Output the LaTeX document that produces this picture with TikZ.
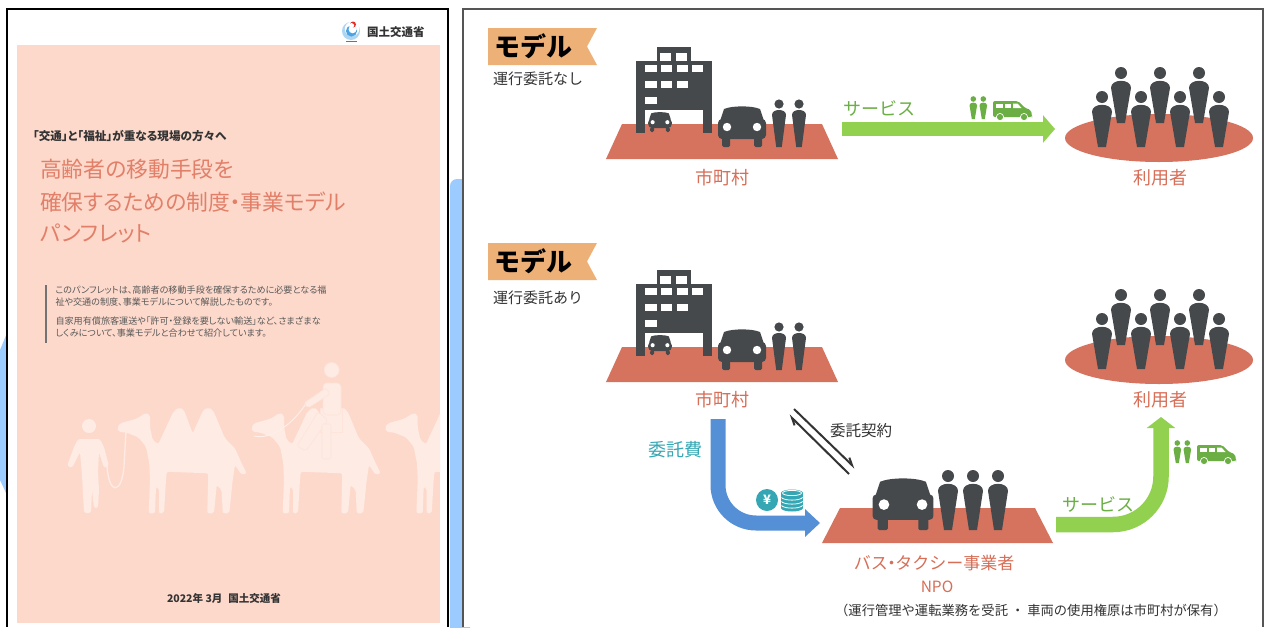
\documentclass[tikz,border=0pt]{standalone}
\usepackage{fontspec}
\setmainfont{Noto Sans CJK JP}
\newfontfamily\coverfont[RawFeature=+palt]{Noto Sans CJK JP}
\usetikzlibrary{arrows.meta}

\definecolor{ink}{HTML}{46494B}
\definecolor{brick}{HTML}{D5735E}
\definecolor{brickText}{HTML}{D76E57}
\definecolor{leaf}{HTML}{92D050}
\definecolor{leafDark}{HTML}{6AAE44}
\definecolor{sky}{HTML}{5590D6}
\definecolor{tealc}{HTML}{35A7B4}
\definecolor{tagOrange}{HTML}{EDB077}
\definecolor{coverPink}{HTML}{FDD9CB}
\definecolor{camelTone}{HTML}{FDEBE4}
\definecolor{titleSalmon}{HTML}{E27F69}
\definecolor{decoBlue}{HTML}{9CCBFF}
\definecolor{frameGray}{HTML}{555555}
\definecolor{logoBlue}{HTML}{4BA3E3}
\definecolor{logoRed}{HTML}{E0302A}
\definecolor{bodyText}{HTML}{333333}

\newcommand{\fsz}[1]{\fontsize{#1}{#1}\selectfont}
\newcommand{\tightdot}{\kern-.28em・\kern-.28em}

% standing figure: x, head y, head radius, half shoulder width, foot y, colour
\newcommand{\figurine}[6]{%
  \fill[#6] (#1,#2) circle (#3);
  \fill[#6] ({#1-0.4*#4},#5) -- ({#1-#4},{#2+1.3*#3+0.7*#4})
    .. controls ({#1-#4},{#2+1.3*#3-0.233*#4}) and ({#1+#4},{#2+1.3*#3-0.233*#4})
    .. ({#1+#4},{#2+1.3*#3+0.7*#4}) -- ({#1+0.4*#4},#5) -- cycle;
}

% front view of a car: centre x, bottom y, scale
\newcommand{\sedan}[3]{%
  \begin{scope}[shift={(#1,#2)},scale=#3]
    \fill[ink] (-22,-26) -- (-18,-38) .. controls (-10,-41.5) and (10,-41.5) .. (18,-38) -- (22,-26) -- cycle;
    \fill[ink,rounded corners=4pt] (-24,-28) rectangle (24,-8);
    \fill[ink,rounded corners=1.5pt] (-20,-10) rectangle (-12,0);
    \fill[ink,rounded corners=1.5pt] (12,-10) rectangle (20,0);
    \fill[white] (-15,-20) circle (4.2);
    \fill[white] (15,-20) circle (4.2);
  \end{scope}}

% two small figures and a van
\newcommand{\servicebadge}[2]{%
  \begin{scope}[shift={(#1,#2)}]
    \figurine{4.3}{-20}{2.8}{3.8}{0}{leafDark}
    \figurine{14.3}{-20}{2.8}{3.8}{0}{leafDark}
    \fill[leafDark,rounded corners=2pt] (24,-2) -- (24,-18) -- (49,-18) -- (56,-11) -- (62,-9) -- (63,-3) -- (63,-2) -- cycle;
    \fill[white] (27,-15.5) rectangle (33.5,-11);
    \fill[white] (35.5,-15.5) rectangle (42,-11);
    \fill[white] (44,-15.5) -- (48.5,-15.5) -- (52.5,-11) -- (44,-11) -- cycle;
    \filldraw[leafDark,draw=white,line width=0.7pt] (31,-2) circle (3.6);
    \filldraw[leafDark,draw=white,line width=0.7pt] (55,-2) circle (3.6);
  \end{scope}}

% office building, cars and staff standing on a plinth; argument = vertical offset
\newcommand{\townhall}[1]{%
  \begin{scope}[shift={(0,#1)}]
    \fill[brick] (606,159) -- (622,124) -- (822,124) -- (838,159) -- cycle;
    \fill[ink] (657,47) rectangle (691,62);
    \fill[ink] (636,61) rectangle (712,110);
    \fill[ink] (636,109) rectangle (645,133);
    \fill[ink] (703,109) rectangle (712,133);
    \fill[white] (660,53.3) rectangle (670.7,60.7);
    \fill[white] (676,53.3) rectangle (687.3,60.7);
    \foreach \xa/\xb in {645/656.7,661/672.3,676.7/688,692.3/703.3}
      {\fill[white] (\xa,65) rectangle (\xb,72.3);}
    \foreach \xa/\xb in {645/656.7,661/672.3,676.7/688}
      {\fill[white] (\xa,81) rectangle (\xb,88.3);}
    \fill[white] (645,96.7) rectangle (656.7,104);
    \sedan{660}{132}{0.49}
    \sedan{742}{147}{1}
    \figurine{779}{104}{4.6}{7}{147}{ink}
    \figurine{799}{104}{4.6}{7}{147}{ink}
  \end{scope}}

% crowd of users on an oval; argument = vertical offset
\newcommand{\crowd}[1]{%
  \begin{scope}[shift={(0,#1)}]
    \fill[brick] (1159,138) ellipse (94 and 24);
    \foreach \cx in {1121,1160,1199} {\figurine{\cx}{73}{6}{10}{123}{ink}}
    \foreach \cx in {1102,1141,1180,1219} {\figurine{\cx}{97}{6}{10}{147}{ink}}
  \end{scope}}

% silhouette of a camel, shifted horizontally
\newcommand{\camel}[1]{%
  \fill[camelTone,rounded corners=2pt,shift={(#1,0)}]
    (117.3,427.3) -- (120,423.3) -- (136.7,418.7) -- (146,412.7) -- (150,415) -- (150,427.3)
    -- (152.7,440) -- (158.3,444) -- (173.3,411.7) -- (179.3,407.3) -- (184,410) -- (192.7,433.3)
    -- (203.3,410) -- (208.3,407.3) -- (213.3,410.7) -- (225,438.3) -- (235,448.3) -- (241.7,463.3)
    -- (246.7,473.3) -- (241.7,475) -- (235,465) -- (232.7,480) -- (229.3,513.3) -- (222.7,513.3)
    -- (221.7,490) -- (216.7,485) -- (214,513.3) -- (207.3,513.3) -- (208.3,473.3) -- (166.7,471.7)
    -- (166,480) -- (164,513.3) -- (159,513.3) -- (159,488.3) -- (156,486.7) -- (155,513.3)
    -- (148.7,513.3) -- (150,480) -- (149.3,463.3) -- (146,446.7) -- (138.3,437.3) -- (126.7,432.7)
    -- (118.3,431.7) -- cycle;}

\begin{document}
\begin{tikzpicture}[x=1pt,y=-1pt,
  every node/.style={inner sep=0pt,outer sep=0pt},
  placename/.style={font=\fsz{18},text=brickText},
  servicetext/.style={font=\fsz{18},text=leafDark},
  modelflag/.style={fill=tagOrange},
  flagtext/.style={font=\fsz{26}\bfseries,text=black,anchor=west},
  subtitle/.style={font=\fsz{15},text=bodyText,anchor=west},
  coverline/.style={font=\coverfont\fsz{9.1},text=black!65,anchor=west},
  titleline/.style={font=\coverfont\fsz{21.8},text=titleSalmon,anchor=west},
  harpoon/.style={draw=black!80,line width=2pt,-{Straight Barb[left,length=7pt,width=7pt]}},
]
\useasboundingbox (0,0) rectangle (1266,627);
\fill[white] (0,0) rectangle (1266,627);

% ---------- decorative blue shapes ----------
\fill[decoBlue,rounded corners=7pt] (450,640) -- (450,179) -- (470,179) -- (470,640) -- cycle;
\fill[decoBlue] (0,350) -- (7,333) -- (7,495) -- (0,480) -- cycle;

% ---------- pamphlet cover ----------
\fill[white] (8,10) rectangle (447,627);
\draw[black,line width=1.2pt] (7,627) -- (7,9) -- (448,9) -- (448,627);
\fill[coverPink] (17,45) rectangle (440,623);

% ministry logo
\fill[logoBlue!45] (351,31) circle (9);
\fill[white] (352,29) circle (7.2);
\fill[logoBlue] (351.5,31) circle (5.6);
\fill[white] (352.6,29.3) circle (4);
\fill[logoRed] (353,24.5) circle (3);
\fill[white] (351.6,25.6) circle (2.5);
\fill[black!55] (346,40.5) rectangle (357,42);
\node[font=\fsz{11.5}\bfseries,text=bodyText,anchor=west] (mlit) at (367,32) {国土交通省};

\node[font=\coverfont\fsz{11.6}\bfseries,text=bodyText,anchor=west] (lead) at (33,136) {「交通」と「福祉」が重なる現場の方々へ};
\node[titleline] (title1) at (40,169) {高齢者の移動手段を};
\node[titleline] (title2) at (40,202) {確保するための制度・事業モデル};
\node[titleline] (title3) at (40,233) {パンフレット};

\fill[black!55] (44.5,285) rectangle (46.5,343);
\node[coverline] (para1) at (55.5,290) {このパンフレットは、高齢者の移動手段を確保するために必要となる福};
\node[coverline] (para2) at (55.5,302) {祉や交通の制度、事業モデルについて解説したものです。};
\node[coverline] (para3) at (55.5,321) {自家用有償旅客運送や「許可・登録を要しない輸送」など、さまざまな};
\node[coverline] (para4) at (55.5,333) {しくみについて、事業モデルと合わせて紹介しています。};

% caravan of camels
\begin{scope}
  \clip (17,45) rectangle (440,623);
  \camel{0}
  \camel{134}
  \camel{267.7}
  % man leading the caravan
  \fill[camelTone] (89,426) circle (7);
  \fill[camelTone] (82,427) -- (86,425) -- (86,429) -- cycle;
  \fill[camelTone,rounded corners=2.5pt] (78,439) -- (100,439) -- (104,447) -- (109,466) -- (104,468)
    -- (99,452) -- (98,472) -- (99,490) -- (98,508) -- (94,508) -- (92,490) -- (91,513) -- (84,513)
    -- (82,475) -- (80,452) -- (72,468) -- (67,466) -- (74,447) -- cycle;
  \draw[camelTone,line width=1.3pt] (107,466) .. controls (109,496) and (122,494) .. (124,466) -- (126,431);
  % rider on the second camel
  \begin{scope}[draw=coverPink!70!white,line width=0.6pt]
    \filldraw[fill=camelTone] (320,408) rectangle (342,432);
    \filldraw[fill=camelTone,rounded corners=4pt] (323,383) rectangle (341,415);
    \filldraw[fill=camelTone,rounded corners=2pt] (318,412) -- (328,420) -- (306,451) -- (297,446) -- cycle;
    \filldraw[fill=camelTone,rounded corners=2pt] (322,424) rectangle (331,459);
    \filldraw[fill=camelTone,rounded corners=2pt] (326,388) -- (330,394) -- (308,408) -- (304,403) -- cycle;
    \filldraw[fill=camelTone] (331.7,370) circle (7.5);
  \end{scope}
  \draw[camelTone!80!white,line width=1pt] (305,405) .. controls (292,425) and (270,440) .. (254,436);
\end{scope}

\node[font=\fsz{10.5}\bfseries,text=bodyText] (issued) at (224,598) {2022年 3月\hspace{6pt}国土交通省};

% ---------- model panel ----------
\fill[white] (463,9) rectangle (1266,627);
\draw[frameGray,line width=1.2pt] (463,627) -- (463,9) -- (1263,9) -- (1263,627);

% model without outsourcing
\fill[modelflag] (488,28) -- (597,28) -- (587,46.5) -- (597,65) -- (488,65) -- cycle;
\node[flagtext] (flagA) at (494,46.5) {モデル};
\node[subtitle] (subA) at (493,79) {運行委託なし};

\townhall{0}
\crowd{0}
\node[placename] (muniA) at (722,178) {市町村};
\node[placename] (usersA) at (1160,178) {利用者};

\coordinate (svcStartA) at (842,129);
\coordinate (svcEndA) at (1055,129);
\draw[leaf,line width=14pt,-{Triangle[length=12pt,width=27pt]}] (svcStartA) -- (svcEndA);
\node[servicetext] (svcTextA) at (879,108) {サービス};
\servicebadge{969}{119}

% model with outsourcing
\fill[modelflag] (488,243) -- (597,243) -- (587,261.5) -- (597,280) -- (488,280) -- cycle;
\node[flagtext] (flagB) at (494,261.5) {モデル};
\node[subtitle] (subB) at (493,298) {運行委託あり};

\townhall{223}
\crowd{222}
\node[placename] (muniB) at (722,400) {市町村};
\node[placename] (usersB) at (1160,400) {利用者};

% operator on its plinth
\fill[brick] (822,543) -- (840,508) -- (1035,508) -- (1053,543) -- cycle;
\sedan{903}{530}{1.27}
\foreach \cx in {948,973,998} {\figurine{\cx}{476}{6}{10}{530}{ink}}
\node[placename,font=\fsz{17}] (operator) at (934,563) {バス\tightdot タクシー事業者};
\node[font=\fsz{15.5},text=brickText] (npo) at (937,587) {NPO};
\node[font=\fsz{13.3},text=bodyText] (remark) at (1031,610) {（運行管理や運転業務を受託 ・ 車両の使用権原は市町村が保有）};

% fee flow
\coordinate (feeStart) at (718,419);
\coordinate (feeBend) at (718,523);
\coordinate (feeEnd) at (820,523);
\draw[sky,line width=15pt,rounded corners=38pt,-{Triangle[length=15pt,width=27pt]}] (feeStart) -- (feeBend) -- (feeEnd);
\node[font=\fsz{18},text=tealc] (feeText) at (675.5,450) {委託費};
\fill[tealc] (767,500) circle (11);
\node[font=\fsz{13}\bfseries,text=white] (yen) at (767,500) {¥};
\fill[tealc] (781,493) rectangle (803,508);
\fill[tealc] (792,508) ellipse (11 and 3.5);
\fill[tealc] (792,493) ellipse (11 and 3.5);
\draw[white,line width=0.8pt] (792,493) ellipse (9.5 and 2.6);
\foreach \yy in {497.5,501.5,505.5}
  {\draw[white,line width=0.8pt] (781.5,\yy) .. controls (784,\yy+3.5) and (800,\yy+3.5) .. (802.5,\yy);}

% contract between municipality and operator
\coordinate (contractA1) at (849,474);
\coordinate (contractA2) at (789,415);
\coordinate (contractB1) at (794,409);
\coordinate (contractB2) at (855,468);
\draw[harpoon] (contractA1) -- (contractA2);
\draw[harpoon] (contractB1) -- (contractB2);
\node[font=\fsz{15.5},text=bodyText] (contractText) at (861,431) {委託契約};

% service flow to the users
\coordinate (svcStartB) at (1056,524.5);
\coordinate (svcBendB) at (1161,524.5);
\coordinate (svcEndB) at (1161,417);
\draw[leaf,line width=15.5pt,rounded corners=48pt,-{Triangle[length=11pt,width=28pt]}] (svcStartB) -- (svcBendB) -- (svcEndB);
\node[servicetext] (svcTextB) at (1098,504) {サービス};
\servicebadge{1173}{463}

\end{tikzpicture}
\end{document}
